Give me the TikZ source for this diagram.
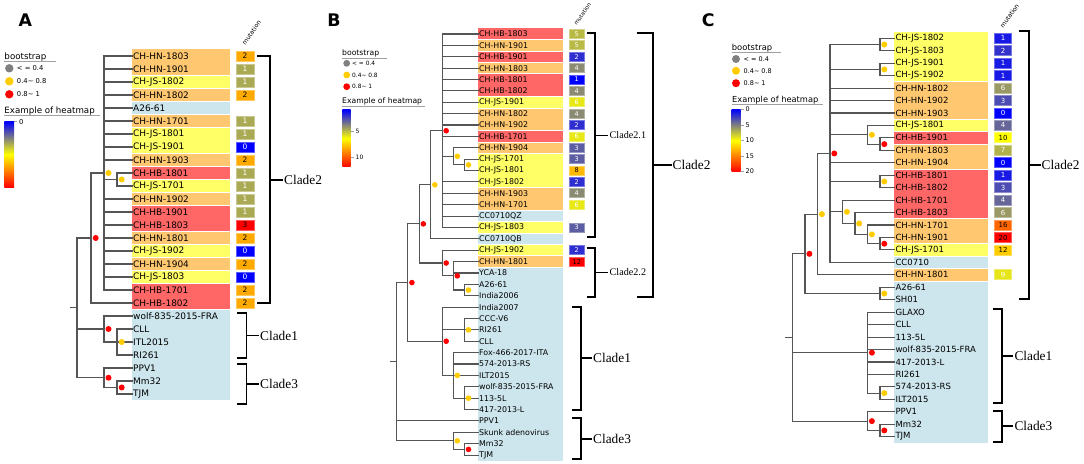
\documentclass[tikz,border=0pt]{standalone}
\usepackage{fontspec}
\setmainfont{DejaVu Sans}
\newfontfamily\cladefont{Liberation Serif}
\definecolor{lo}{RGB}{255,200,112}
\definecolor{ly}{RGB}{255,255,102}
\definecolor{lr}{RGB}{255,102,102}
\definecolor{lb}{RGB}{205,230,237}
\definecolor{hb}{RGB}{0,0,255}
\definecolor{hy}{RGB}{255,255,0}
\definecolor{hr}{RGB}{255,0,0}
\definecolor{brc}{RGB}{85,85,85}
\definecolor{bsg}{RGB}{128,128,128}
\definecolor{bsy}{RGB}{255,204,0}
\definecolor{bsr}{RGB}{255,0,0}
\definecolor{ulc}{RGB}{160,160,160}
\newcommand\fA{\fontsize{9}{10}\selectfont}
\newcommand\fB{\fontsize{7.9}{9}\selectfont}
\newcommand\fC{\fontsize{8.55}{9.5}\selectfont}
\newcommand\fAm{\fontsize{7.5}{8}\selectfont}
\newcommand\fBm{\fontsize{6.5}{7}\selectfont}
\newcommand\fCm{\fontsize{7}{7.5}\selectfont}
\newcommand\mutcolor[3]{%
  \pgfmathsetmacro\mtv{(#1-#2)/(#3-#2)}%
  \ifdim\mtv pt<0.5pt
    \pgfmathsetmacro\mpp{200*\mtv}%
    \colorlet{mc}{hy!\mpp!hb}\colorlet{mt}{white}%
  \else
    \pgfmathsetmacro\mpp{200*\mtv-100}%
    \colorlet{mc}{hr!\mpp!hy}\colorlet{mt}{black}%
  \fi}
\newcommand\leaf[2]{\draw[br] (#2 |- #1.west) -- (#1.west);}
% white separator where the row colour changes
\gdef\prevcol{none}
\newcommand\rowsep[4]{% col, x1, x2, ytop
  \edef\curcol{#1}%
  \ifx\curcol\prevcol\else
    \ifx\prevcol\nonecol\else
      \draw[white, line width=0.9bp] (#2,#4) -- (#3,#4);
    \fi
  \fi
  \xdef\prevcol{#1}}
\def\nonecol{none}
\tikzset{
  br/.style={draw=brc, line width=1.1bp, line cap=rect},
  brk/.style={draw=black, line width=1.7bp},
  lab/.style={inner xsep=1bp, inner ysep=0pt, anchor=west, text=black},
  mbox/.style={inner sep=0pt, line width=0.8bp},
  bdot/.style={circle, inner sep=0pt, minimum size=#1},
  bdot/.default=6bp,
  lgt/.style={inner sep=0pt, anchor=west},
  ul/.style={draw=ulc, line width=0.8bp},
  clade/.style={inner sep=0pt, anchor=west, font=\cladefont\fontsize{13.4}{14}\selectfont},
  subclade/.style={inner sep=0pt, anchor=west, font=\cladefont\fontsize{10.2}{11}\selectfont},
  plet/.style={font=\bfseries\fontsize{17.4}{18}\selectfont, inner sep=0pt},
}
\begin{document}
\begin{tikzpicture}[x=1bp,y=-1bp]
\useasboundingbox (0,0) rectangle (1084,464);
\fill[white] (0,0) rectangle (1084,464);

% ================= PANEL A =================
\node[plet] (LA) at (25.3,19.7) {A};
\node[lgt, font=\fontsize{8.7}{10}\selectfont] (Abs) at (4.3,57) {bootstrap};
\draw[ul] (4.3,61.7) -- (55.7,61.7);
\node[bdot=8.4bp, fill=bsg] (Ag1) at (9.3,68.3) {};
\node[bdot=8.4bp, fill=bsy] (Ag2) at (9.3,81.3) {};
\node[bdot=8.4bp, fill=bsr] (Ag3) at (9.3,94.3) {};
\node[lgt, font=\fontsize{6.8}{8}\selectfont] (Agt1) at (16.8,68.3) {< = 0.4};
\node[lgt, font=\fontsize{6.8}{8}\selectfont] (Agt2) at (16.8,81.3) {0.4\textasciitilde{} 0.8};
\node[lgt, font=\fontsize{6.8}{8}\selectfont] (Agt3) at (16.8,94.3) {0.8\textasciitilde{} 1};
\node[lgt, font=\fontsize{8.7}{10}\selectfont] (Ahm) at (4.3,111.5) {Example of heatmap};
\draw[ul] (4.3,115.7) -- (100,115.7);
\shade[top color=hb, bottom color=hr, middle color=hy] (4.3,121.7) rectangle (14,187.3);
\draw[ulc, line width=0.6bp] (14,121.7) -- (16.5,121.7);
\node[lgt, font=\fontsize{6.8}{8}\selectfont] (Ahm0) at (19,121.7) {0};
\node[rotate=55, font=\fontsize{6.2}{7}\selectfont, inner sep=0pt] (AMh) at (251.5,32.5) {mutation};

\gdef\prevcol{none}
\foreach \lab/\col/\m [count=\i] in {CH-HN-1803/lo/2, CH-HN-1901/lo/1, CH-JS-1802/ly/1, CH-HN-1802/lo/2, A26-61/lb/-1, CH-HN-1701/lo/1, CH-JS-1801/ly/1, CH-JS-1901/ly/0, CH-HN-1903/lo/2, CH-HB-1801/lr/1, CH-JS-1701/ly/1, CH-HN-1902/lo/1, CH-HB-1901/lr/1, CH-HB-1803/lr/3, CH-HN-1801/lo/2, CH-JS-1902/ly/0, CH-HN-1904/lo/2, CH-JS-1803/ly/0, CH-HB-1701/lr/2, CH-HB-1802/lr/2, wolf-835-2015-FRA/lb/-1, CLL/lb/-1, ITL2015/lb/-1, RI261/lb/-1, PPV1/lb/-1, Mm32/lb/-1, TJM/lb/-1} {
  \pgfmathsetmacro\yy{56+13*(\i-1)}
  \fill[\col] (132,\yy-6.5) rectangle (230,\yy+6.5);
  \rowsep{\col}{132}{230}{\yy-6.5}
  \node[lab, font=\fA] (A\i) at (132,\yy) {\lab};
  \ifnum\m<0 \else
    \mutcolor{\m}{0}{3}
    \node[mbox, fill=mc, draw=white!35!mc, text=mt, minimum width=18bp, minimum height=10bp, font=\fAm] (AM\i) at (245,\yy) {\m};
  \fi
}
\coordinate (Ax1) at (77,0);
\coordinate (Ax2) at (91,0);
\coordinate (Ax3) at (104,0);
\coordinate (Ax4) at (117,0);
\foreach \i in {1,2,3,4,5,6,7,8,9,12,13,14,15,16,17,18,19,21,25} {\leaf{A\i}{Ax3}}
\foreach \i in {10,11,22,23,24,26,27} {\leaf{A\i}{Ax4}}
\leaf{A20}{Ax2}
\draw[br] (104,56) -- (104,290);
\draw[br] (104,179.5) -- (117,179.5);
\draw[br] (117,173) -- (117,186);
\draw[br] (91,173) -- (104,173);
\draw[br] (91,173) -- (91,303);
\draw[br] (77,238) -- (91,238);
\draw[br] (77,238) -- (77,377.75);
\draw[br] (71,307.9) -- (77,307.9);
\draw[br] (77,329) -- (104,329);
\draw[br] (104,316) -- (104,342);
\draw[br] (104,342) -- (117,342);
\draw[br] (117,329) -- (117,355);
\draw[br] (77,377.75) -- (104,377.75);
\draw[br] (104,368) -- (104,387.5);
\draw[br] (104,387.5) -- (117,387.5);
\draw[br] (117,381) -- (117,394);
\node[bdot, fill=bsy] (Ad1) at (108.5,173) {};
\node[bdot, fill=bsy] (Ad2) at (121.7,179.5) {};
\node[bdot, fill=bsr] (Ad3) at (95.7,238) {};
\node[bdot, fill=bsr] (Ad4) at (108.5,329) {};
\node[bdot, fill=bsy] (Ad5) at (121.7,342) {};
\node[bdot, fill=bsr] (Ad6) at (108.5,377.75) {};
\node[bdot, fill=bsr] (Ad7) at (121.7,387.5) {};
% brackets A
\draw[brk] (257,56) -- (270,56) -- (270,303) -- (257,303);
\draw[brk] (270,180) -- (283,180);
\node[clade] (AC2) at (284,180) {Clade2};
\draw[brk] (237,313.3) -- (246.5,313.3) -- (246.5,357.7) -- (237,357.7);
\draw[brk] (246.5,335.5) -- (258.5,335.5);
\node[clade] (AC1) at (260,335.5) {Clade1};
\draw[brk] (237,364.3) -- (246.5,364.3) -- (246.5,404.3) -- (237,404.3);
\draw[brk] (246.5,384.3) -- (258.5,384.3);
\node[clade] (AC3) at (260,384.3) {Clade3};

% ================= PANEL B =================
\node[plet] (LB) at (334,19.7) {B};
\node[lgt, font=\fontsize{7.7}{9}\selectfont] (Bbs) at (342,53.3) {bootstrap};
\draw[ul] (342,58) -- (387,58);
\node[bdot=6.8bp, fill=bsg] (Bg1) at (346.7,63.3) {};
\node[bdot=6.8bp, fill=bsy] (Bg2) at (346.7,75) {};
\node[bdot=6.8bp, fill=bsr] (Bg3) at (346.7,86.7) {};
\node[lgt, font=\fontsize{5.9}{7}\selectfont] (Bgt1) at (352,63.3) {< = 0.4};
\node[lgt, font=\fontsize{5.9}{7}\selectfont] (Bgt2) at (352,75) {0.4\textasciitilde{} 0.8};
\node[lgt, font=\fontsize{5.9}{7}\selectfont] (Bgt3) at (352,86.7) {0.8\textasciitilde{} 1};
\node[lgt, font=\fontsize{7.7}{9}\selectfont] (Bhm) at (342,101.7) {Example of heatmap};
\draw[ul] (342,106.3) -- (425,106.3);
\shade[top color=hb, bottom color=hr, middle color=hy] (342.3,110) rectangle (350.7,167);
\draw[ulc, line width=0.6bp] (350.7,131) -- (353.5,131);
\draw[ulc, line width=0.6bp] (350.7,157) -- (353.5,157);
\node[lgt, font=\fontsize{6}{7}\selectfont] (Bhm5) at (355.5,131) {5};
\node[lgt, font=\fontsize{6}{7}\selectfont] (Bhm10) at (355.5,157) {10};
\node[rotate=55, font=\fontsize{5.6}{6}\selectfont, inner sep=0pt] (BMh) at (582.5,14) {mutation};

\gdef\prevcol{none}
\foreach \lab/\col/\m [count=\i] in {CH-HB-1803/lr/5, CH-HN-1901/lo/5, CH-HB-1901/lr/2, CH-HN-1803/lo/4, CH-HB-1801/lr/1, CH-HB-1802/lr/4, CH-JS-1901/ly/6, CH-HN-1802/lo/4, CH-HN-1902/lo/2, CH-HB-1701/lr/6, CH-HN-1904/lo/3, CH-JS-1701/ly/3, CH-JS-1801/ly/8, CH-JS-1802/ly/2, CH-HN-1903/lo/4, CH-HN-1701/lo/6, CC0710QZ/lb/-1, CH-JS-1803/ly/3, CC0710QB/lb/-1, CH-JS-1902/ly/2, CH-HN-1801/lo/12, YCA-18/lb/-1, A26-61/lb/-1, India2006/lb/-1, India2007/lb/-1, CCC-V6/lb/-1, RI261/lb/-1, CLL/lb/-1, Fox-466-2017-ITA/lb/-1, 574-2013-RS/lb/-1, ILT2015/lb/-1, wolf-835-2015-FRA/lb/-1, 113-5L/lb/-1, 417-2013-L/lb/-1, PPV1/lb/-1, Skunk adenovirus/lb/-1, Mm32/lb/-1, TJM/lb/-1} {
  \pgfmathsetmacro\yy{34+11.38*(\i-1)}
  \fill[\col] (478,\yy-5.69) rectangle (563.3,\yy+5.69);
  \rowsep{\col}{478}{563.3}{\yy-5.69}
  \node[lab, font=\fB] (B\i) at (478,\yy) {\lab};
  \ifnum\m<0 \else
    \mutcolor{\m}{1}{12}
    \node[mbox, fill=mc, draw=white!35!mc, text=mt, minimum width=15bp, minimum height=9bp, font=\fBm] (BM\i) at (576.8,\yy) {\m};
  \fi
}
\coordinate (Bx0) at (396.7,0);
\coordinate (Bx1) at (407.7,0);
\coordinate (Bx2) at (419.3,0);
\coordinate (Bx3) at (430.7,0);
\coordinate (Bx4) at (442.3,0);
\coordinate (Bx5) at (453.3,0);
\coordinate (Bx6) at (464.3,0);
\foreach \i in {1,2,3,4,5,6,7,8,9,10,14,15,16,17,18,20,25} {\leaf{B\i}{Bx4}}
\foreach \i in {11,21,22,29,30,31,36} {\leaf{B\i}{Bx5}}
\foreach \i in {12,13,23,24,26,27,28,32,33,34,37,38} {\leaf{B\i}{Bx6}}
\leaf{B19}{Bx3}
\leaf{B35}{Bx0}
\draw[br] (442.3,34) -- (442.3,227.46);
\draw[br] (442.3,156.34) -- (453.3,156.34);
\draw[br] (453.3,147.8) -- (453.3,164.87);
\draw[br] (453.3,164.87) -- (464.3,164.87);
\draw[br] (464.3,159.18) -- (464.3,170.56);
\draw[br] (430.7,130.73) -- (442.3,130.73);
\draw[br] (430.7,130.73) -- (430.7,238.84);
\draw[br] (419.3,184.79) -- (430.7,184.79);
\draw[br] (419.3,184.79) -- (419.3,263.02);
\draw[br] (419.3,263.02) -- (442.3,263.02);
\draw[br] (442.3,250.22) -- (442.3,275.83);
\draw[br] (442.3,275.83) -- (453.3,275.83);
\draw[br] (453.3,261.6) -- (453.3,290.05);
\draw[br] (453.3,290.05) -- (464.3,290.05);
\draw[br] (464.3,284.36) -- (464.3,295.74);
\draw[br] (407.7,223.9) -- (419.3,223.9);
\draw[br] (407.7,223.9) -- (407.7,341.26);
\draw[br] (407.7,341.26) -- (442.3,341.26);
\draw[br] (442.3,307.12) -- (442.3,375.4);
\draw[br] (442.3,329.88) -- (464.3,329.88);
\draw[br] (464.3,318.5) -- (464.3,341.26);
\draw[br] (442.3,375.4) -- (453.3,375.4);
\draw[br] (453.3,352.64) -- (453.3,398.16);
\draw[br] (453.3,398.16) -- (464.3,398.16);
\draw[br] (464.3,386.78) -- (464.3,409.54);
\draw[br] (396.7,282.58) -- (407.7,282.58);
\draw[br] (396.7,282.58) -- (396.7,440.84);
\draw[br] (391,361.71) -- (396.7,361.71);
\draw[br] (396.7,440.84) -- (453.3,440.84);
\draw[br] (453.3,432.3) -- (453.3,449.37);
\draw[br] (453.3,449.37) -- (464.3,449.37);
\draw[br] (464.3,443.68) -- (464.3,455.06);
\node[bdot=5.6bp, fill=bsr] (Bd1) at (446.2,130.73) {};
\node[bdot=5.6bp, fill=bsy] (Bd2) at (457.3,156.34) {};
\node[bdot=5.6bp, fill=bsy] (Bd3) at (468.5,164.87) {};
\node[bdot=5.6bp, fill=bsy] (Bd4) at (434.8,184.79) {};
\node[bdot=5.6bp, fill=bsr] (Bd5) at (423.3,223.9) {};
\node[bdot=5.6bp, fill=bsr] (Bd6) at (446.2,263.02) {};
\node[bdot=5.6bp, fill=bsr] (Bd7) at (457.3,275.83) {};
\node[bdot=5.6bp, fill=bsy] (Bd8) at (468.5,290.05) {};
\node[bdot=5.6bp, fill=bsr] (Bd9) at (411.9,282.58) {};
\node[bdot=5.6bp, fill=bsr] (Bd10) at (446.2,341.26) {};
\node[bdot=5.6bp, fill=bsy] (Bd11) at (468.5,329.88) {};
\node[bdot=5.6bp, fill=bsy] (Bd12) at (457.3,375.4) {};
\node[bdot=5.6bp, fill=bsy] (Bd13) at (468.5,398.16) {};
\node[bdot=5.6bp, fill=bsy] (Bd14) at (457.3,440.84) {};
\node[bdot=5.6bp, fill=bsr] (Bd15) at (468.5,449.37) {};
% brackets B
\draw[brk] (586.7,33.3) -- (595,33.3) -- (595,236.7) -- (586.7,236.7);
\draw[brk] (595,135.5) -- (608,135.5);
\node[subclade] (BC21) at (609.5,135.5) {Clade2.1};
\draw[brk] (586.7,248.3) -- (595,248.3) -- (595,296.7) -- (586.7,296.7);
\draw[brk] (595,272.5) -- (608,272.5);
\node[subclade] (BC22) at (609.5,272.5) {Clade2.2};
\draw[brk] (636.7,33.3) -- (653.3,33.3) -- (653.3,296.7) -- (636.7,296.7);
\draw[brk] (653.3,165) -- (671.5,165);
\node[clade] (BC2) at (672.5,165) {Clade2};
\draw[brk] (571.7,306.7) -- (581,306.7) -- (581,410) -- (571.7,410);
\draw[brk] (581,358.3) -- (591.7,358.3);
\node[clade] (BC1) at (593,358.3) {Clade1};
\draw[brk] (571.7,418.3) -- (581,418.3) -- (581,459.3) -- (571.7,459.3);
\draw[brk] (581,438.8) -- (591.7,438.8);
\node[clade] (BC3) at (593,438.8) {Clade3};

% ================= PANEL C =================
\node[plet] (LC) at (708.3,19.7) {C};
\node[lgt, font=\fontsize{8.4}{9.5}\selectfont] (Cbs) at (731.7,47.7) {bootstrap};
\draw[ul] (731.7,52.3) -- (781,52.3);
\node[bdot=8bp, fill=bsg] (Cg1) at (736,59) {};
\node[bdot=8bp, fill=bsy] (Cg2) at (736,70.8) {};
\node[bdot=8bp, fill=bsr] (Cg3) at (736,83.2) {};
\node[lgt, font=\fontsize{6.5}{7.5}\selectfont] (Cgt1) at (743.5,59) {< = 0.4};
\node[lgt, font=\fontsize{6.5}{7.5}\selectfont] (Cgt2) at (743.5,70.8) {0.4\textasciitilde{} 0.8};
\node[lgt, font=\fontsize{6.5}{7.5}\selectfont] (Cgt3) at (743.5,83.2) {0.8\textasciitilde{} 1};
\node[lgt, font=\fontsize{8.3}{9.5}\selectfont] (Chm) at (732,100) {Example of heatmap};
\draw[ul] (732,104.7) -- (823,104.7);
\shade[top color=hb, bottom color=hr, middle color=hy] (731.7,109.3) rectangle (740.7,171.7);
\foreach \v/\yv in {0/109.3, 5/125, 10/140.5, 15/156, 20/171.4} {
  \draw[ulc, line width=0.6bp] (740.7,\yv) -- (743.5,\yv);
  \node[lgt, font=\fontsize{6.5}{7.5}\selectfont] (Chm\v) at (745.5,\yv) {\v};
}
\node[rotate=55, font=\fontsize{6.2}{7}\selectfont, inner sep=0pt] (CMh) at (1009.5,16) {mutation};

\gdef\prevcol{none}
\foreach \lab/\col/\m [count=\i] in {CH-JS-1802/ly/1, CH-JS-1803/ly/2, CH-JS-1901/ly/1, CH-JS-1902/ly/1, CH-HN-1802/lo/6, CH-HN-1902/lo/3, CH-HN-1903/lo/0, CH-JS-1801/ly/4, CH-HB-1901/lr/10, CH-HN-1803/lo/7, CH-HN-1904/lo/0, CH-HB-1801/lr/1, CH-HB-1802/lr/3, CH-HB-1701/lr/4, CH-HB-1803/lr/6, CH-HN-1701/lo/16, CH-HN-1901/lo/20, CH-JS-1701/ly/12, CC0710/lb/-1, CH-HN-1801/lo/9, A26-61/lb/-1, SH01/lb/-1, GLAXO/lb/-1, CLL/lb/-1, 113-5L/lb/-1, wolf-835-2015-FRA/lb/-1, 417-2013-L/lb/-1, RI261/lb/-1, 574-2013-RS/lb/-1, ILT2015/lb/-1, PPV1/lb/-1, Mm32/lb/-1, TJM/lb/-1} {
  \pgfmathsetmacro\yy{38.3+12.45*(\i-1)}
  \fill[\col] (894.3,\yy-6.225) rectangle (988.3,\yy+6.225);
  \rowsep{\col}{894.3}{988.3}{\yy-6.225}
  \node[lab, font=\fC] (C\i) at (894.3,\yy) {\lab};
  \ifnum\m<0 \else
    \mutcolor{\m}{0}{20}
    \node[mbox, fill=mc, draw=white!35!mc, text=mt, minimum width=17.4bp, minimum height=10bp, font=\fCm] (CM\i) at (1003,\yy) {\m};
  \fi
}
\coordinate (Cx0) at (792.7,0);
\coordinate (Cx1) at (805,0);
\coordinate (Cx2) at (817.7,0);
\coordinate (Cx3) at (830,0);
\coordinate (Cx4) at (842.7,0);
\coordinate (Cx5) at (855,0);
\coordinate (Cx6) at (867.7,0);
\coordinate (Cx7) at (880,0);
\foreach \i in {1,2,3,4,9,10,12,13,17,18,21,22,29,30,32,33} {\leaf{C\i}{Cx7}}
\foreach \i in {5,6,7,11,19} {\leaf{C\i}{Cx3}}
\foreach \i in {8,16,23,24,25,26,27,28,31} {\leaf{C\i}{Cx6}}
\leaf{C14}{Cx4}
\leaf{C15}{Cx5}
\leaf{C20}{Cx2}
\draw[br] (830,44.53) -- (830,262.4);
\draw[br] (830,44.53) -- (880,44.53);
\draw[br] (880,38.3) -- (880,50.75);
\draw[br] (830,69.43) -- (880,69.43);
\draw[br] (880,63.2) -- (880,75.65);
\draw[br] (830,134.79) -- (867.7,134.79);
\draw[br] (867.7,125.45) -- (867.7,144.13);
\draw[br] (867.7,144.13) -- (880,144.13);
\draw[br] (880,137.9) -- (880,150.35);
\draw[br] (830,181.48) -- (880,181.48);
\draw[br] (880,175.25) -- (880,187.7);
\draw[br] (830,211.82) -- (842.7,211.82);
\draw[br] (842.7,200.15) -- (842.7,223.5);
\draw[br] (842.7,223.5) -- (855,223.5);
\draw[br] (855,212.6) -- (855,234.39);
\draw[br] (855,234.39) -- (867.7,234.39);
\draw[br] (867.7,225.05) -- (867.7,243.73);
\draw[br] (867.7,243.73) -- (880,243.73);
\draw[br] (880,237.5) -- (880,249.95);
\draw[br] (817.7,153.47) -- (830,153.47);
\draw[br] (817.7,153.47) -- (817.7,274.85);
\draw[br] (805,214.16) -- (817.7,214.16);
\draw[br] (805,214.16) -- (805,293.53);
\draw[br] (805,293.53) -- (880,293.53);
\draw[br] (880,287.3) -- (880,299.75);
\draw[br] (792.7,253.84) -- (805,253.84);
\draw[br] (792.7,253.84) -- (792.7,421.14);
\draw[br] (786,337.49) -- (792.7,337.49);
\draw[br] (792.7,352.66) -- (867.7,352.66);
\draw[br] (867.7,312.2) -- (867.7,393.13);
\draw[br] (867.7,393.13) -- (880,393.13);
\draw[br] (880,386.9) -- (880,399.35);
\draw[br] (792.7,421.14) -- (867.7,421.14);
\draw[br] (867.7,411.8) -- (867.7,430.48);
\draw[br] (867.7,430.48) -- (880,430.48);
\draw[br] (880,424.25) -- (880,436.7);
\node[bdot, fill=bsy] (Cd1) at (884.3,44.53) {};
\node[bdot, fill=bsy] (Cd2) at (884.3,69.43) {};
\node[bdot, fill=bsr] (Cd3) at (834.3,153.47) {};
\node[bdot, fill=bsy] (Cd4) at (871.9,134.79) {};
\node[bdot, fill=bsr] (Cd5) at (884.3,144.13) {};
\node[bdot, fill=bsy] (Cd6) at (884.3,181.48) {};
\node[bdot, fill=bsy] (Cd7) at (846.9,211.82) {};
\node[bdot, fill=bsy] (Cd8) at (859.2,223.5) {};
\node[bdot, fill=bsy] (Cd9) at (871.9,234.39) {};
\node[bdot, fill=bsr] (Cd10) at (884.3,243.73) {};
\node[bdot, fill=bsy] (Cd11) at (821.9,214.16) {};
\node[bdot, fill=bsr] (Cd12) at (809.4,253.84) {};
\node[bdot, fill=bsy] (Cd13) at (884.3,293.53) {};
\node[bdot, fill=bsr] (Cd14) at (871.9,352.66) {};
\node[bdot, fill=bsy] (Cd15) at (884.3,393.13) {};
\node[bdot, fill=bsr] (Cd16) at (871.9,421.14) {};
\node[bdot, fill=bsr] (Cd17) at (884.3,430.48) {};
% brackets C
\draw[brk] (1019.3,31) -- (1029.3,31) -- (1029.3,299) -- (1019.3,299);
\draw[brk] (1029.3,165) -- (1040.5,165);
\node[clade] (CC2) at (1041.5,165) {Clade2};
\draw[brk] (992.7,309) -- (1001.7,309) -- (1001.7,403.3) -- (992.7,403.3);
\draw[brk] (1001.7,356.2) -- (1013,356.2);
\node[clade] (CC1) at (1014.3,356.2) {Clade1};
\draw[brk] (992.7,411) -- (1001.7,411) -- (1001.7,441.7) -- (992.7,441.7);
\draw[brk] (1001.7,426.3) -- (1013,426.3);
\node[clade] (CC3) at (1014.3,426.3) {Clade3};
\end{tikzpicture}
\end{document}
